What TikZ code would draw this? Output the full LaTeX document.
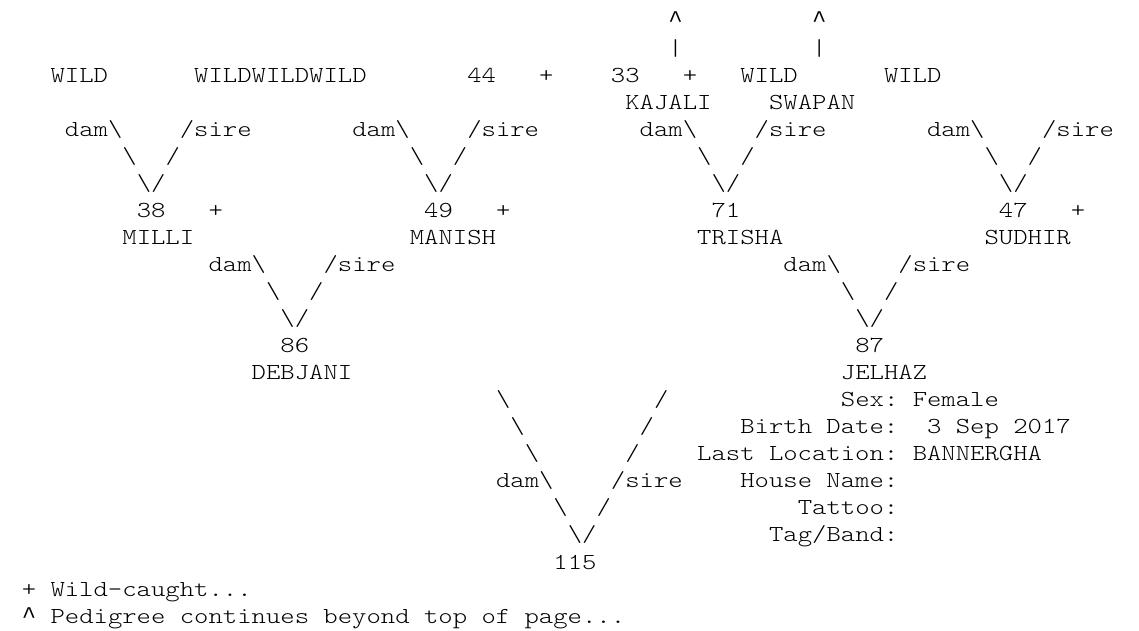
\documentclass[tikz,border=0pt]{standalone}
\usepackage{fontspec}
\setmonofont[FakeStretch=1.195]{Latin Modern Mono Light}
\newfontfamily\caretfont{Liberation Mono}
\newcommand{\bs}{\textbackslash}
\newcommand{\crt}{{\caretfont\fontsize{23.95}{27}\selectfont\symbol{"5E}}}
\newcommand{\asc}[4]{\node[txt] (#1) at ({21.8+14.37*(#2)},{629.05-27.05*(#3)}) {#4};}
\begin{document}
\begin{tikzpicture}[x=1pt,y=1pt,
  txt/.style={inner sep=0pt,outer sep=0pt,anchor=base west,text=black,
    font=\ttfamily\fontsize{22.9}{27}\selectfont}]
\useasboundingbox (0,0) rectangle (1139,630);
% line 1-2
\asc{c1a}{45}{1}{\crt}
\asc{c1b}{55}{1}{\crt}
\asc{p2a}{45}{2}{|}
\asc{p2b}{55}{2}{|}
% line 3
\asc{w3a}{2}{3}{WILD}
\asc{w3b}{12}{3}{WILDWILDWILD}
\asc{n44}{31}{3}{44}
\asc{pl3a}{36}{3}{+}
\asc{n33}{41}{3}{33}
\asc{pl3b}{46}{3}{+}
\asc{w3c}{50}{3}{WILD}
\asc{w3d}{60}{3}{WILD}
% line 4
\asc{kajali}{42}{4}{KAJALI}
\asc{swapan}{52}{4}{SWAPAN}
% lines 5-7 (four groups)
\foreach \g/\i in {0/a,20/b,40/c,60/d}{
  \asc{dam5\i}{\g+3}{5}{dam\bs}
  \asc{sire5\i}{\g+11}{5}{/sire}
  \asc{l6\i}{\g+7}{6}{\bs}
  \asc{r6\i}{\g+10}{6}{/}
  \asc{v7\i}{\g+8}{7}{\bs/}
}
% line 8
\asc{n38}{8}{8}{38}
\asc{pl8a}{13}{8}{+}
\asc{n49}{28}{8}{49}
\asc{pl8b}{33}{8}{+}
\asc{n71}{48}{8}{71}
\asc{n47}{68}{8}{47}
\asc{pl8c}{73}{8}{+}
% line 9
\asc{milli}{7}{9}{MILLI}
\asc{manish}{27}{9}{MANISH}
\asc{trisha}{47}{9}{TRISHA}
\asc{sudhir}{67}{9}{SUDHIR}
% lines 10-12 (two groups)
\foreach \g/\i in {10/a,50/b}{
  \asc{dam10\i}{\g+3}{10}{dam\bs}
  \asc{sire10\i}{\g+11}{10}{/sire}
  \asc{l11\i}{\g+7}{11}{\bs}
  \asc{r11\i}{\g+10}{11}{/}
  \asc{v12\i}{\g+8}{12}{\bs/}
}
% line 13-14
\asc{n86}{18}{13}{86}
\asc{n87}{58}{13}{87}
\asc{debjani}{16}{14}{DEBJANI}
\asc{jelhaz}{57}{14}{JELHAZ}
% lines 15-21
\asc{l15}{33}{15}{\bs}
\asc{r15}{44}{15}{/}
\asc{sexl}{57}{15}{Sex:}
\asc{sexv}{62}{15}{Female}
\asc{l16}{34}{16}{\bs}
\asc{r16}{43}{16}{/}
\asc{bdl}{50}{16}{Birth Date:}
\asc{bdv}{63}{16}{3 Sep 2017}
\asc{l17}{35}{17}{\bs}
\asc{r17}{42}{17}{/}
\asc{lll}{47}{17}{Last Location:}
\asc{llv}{62}{17}{BANNERGHA}
\asc{dam18}{33}{18}{dam\bs}
\asc{sire18}{41}{18}{/sire}
\asc{hnl}{50}{18}{House Name:}
\asc{l19}{37}{19}{\bs}
\asc{r19}{40}{19}{/}
\asc{tatl}{54}{19}{Tattoo:}
\asc{v20}{38}{20}{\bs/}
\asc{tagl}{52}{20}{Tag/Band:}
\asc{n115}{37}{21}{115}
% legend
\asc{leg1}{0}{22}{+ Wild-caught...}
\asc{leg2a}{0}{23}{\crt}
\asc{leg2}{2}{23}{Pedigree continues beyond top of page...}
\end{tikzpicture}
\end{document}
